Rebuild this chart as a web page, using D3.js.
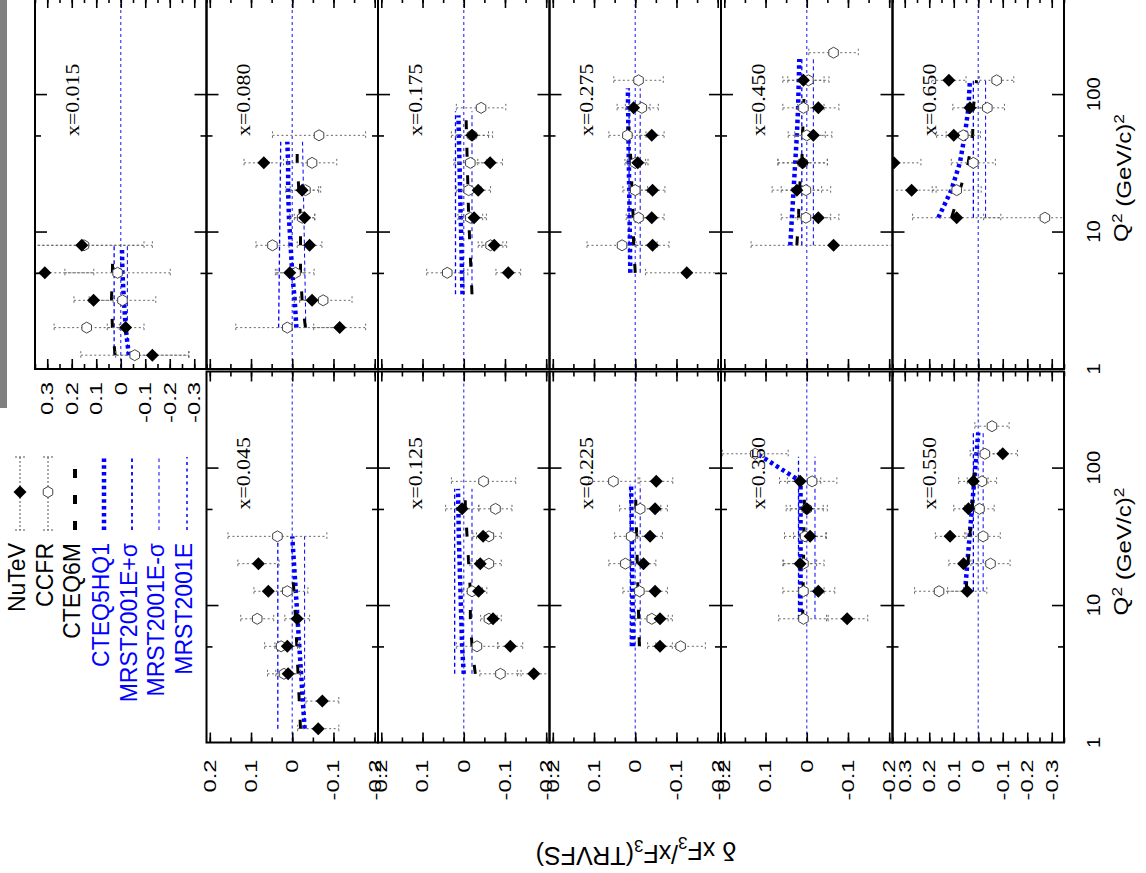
<!DOCTYPE html>
<html><head><meta charset="utf-8">
<script src="https://cdn.jsdelivr.net/npm/d3@7"></script>
<style>body{margin:0;background:#fff}svg{display:block}</style>
</head><body>
<svg id="c" width="1146" height="873"></svg>
<script>
// ---------------- data ----------------
const xBins = ["0.015","0.045","0.080","0.125","0.175","0.225","0.275","0.350","0.450","0.550","0.650"];
const valueRange = [0.35,0.208,0.208,0.208,0.208,0.208,0.208,0.208,0.208,0.35,0.35];
const q2Ticks = [1, 10, 100];
const q2Minor = [5, 50];
const seriesNames = ["NuTeV","CCFR","CTEQ6M","CTEQ5HQ1","MRST2001E+σ","MRST2001E-σ","MRST2001E"];
// [Q2, delta, error]
const nutev = [
  [[1.26,-0.129,0.15],[2,-0.02,0.075],[3.16,0.111,0.08],[5.01,0.31,0.2],[7.94,0.159,0.288]],
  [[1.26,-0.063,0.05],[2,-0.073,0.04],[3.16,0.01,0.03],[5.01,0.012,0.03],[7.94,-0.012,0.03],[12.6,0.058,0.035],[20,0.082,0.05]],
  [[2,-0.115,0.063],[3.16,-0.048,0.03],[5.01,0.006,0.035],[7.94,-0.042,0.03],[12.6,-0.03,0.025],[20,-0.024,0.04],[31.6,0.069,0.048]],
  [[3.16,-0.17,0.04],[5.01,-0.113,0.03],[7.94,-0.071,0.02],[12.6,-0.036,0.02],[20,-0.04,0.025],[31.6,-0.047,0.025],[50.1,0.004,0.04]],
  [[5.01,-0.108,0.03],[7.94,-0.074,0.03],[12.6,-0.025,0.03],[20,-0.035,0.03],[31.6,-0.064,0.03],[50.1,-0.02,0.04]],
  [[5.01,-0.06,0.03],[7.94,-0.06,0.03],[12.6,-0.048,0.03],[20,-0.02,0.03],[31.6,-0.036,0.03],[50.1,-0.048,0.03],[79.4,-0.051,0.04]],
  [[5.01,-0.125,0.1],[7.94,-0.042,0.04],[12.6,-0.04,0.03],[20,-0.042,0.03],[31.6,-0.006,0.025],[50.1,-0.04,0.03],[79.4,0.004,0.04]],
  [[7.94,-0.098,0.05],[12.6,-0.028,0.04],[20,0.016,0.04],[31.6,-0.008,0.04],[50.1,0,0.04],[79.4,0.016,0.05]],
  [[7.94,-0.065,0.2],[12.6,-0.028,0.05],[20,0.024,0.06],[31.6,0.01,0.06],[50.1,-0.016,0.045],[79.4,-0.028,0.05],[126,0.008,0.05]],
  [[12.6,0.045,0.08],[20,0.06,0.06],[31.6,0.115,0.06],[50.1,0.04,0.06],[79.4,0.02,0.06],[126,-0.1,0.06]],
  [[12.6,0.088,0.18],[20,0.272,0.1],[31.6,0.344,0.11],[50.1,0.1,0.07],[79.4,0.034,0.07],[126,0.12,0.07]]
];
const ccfr = [
  [[1.26,-0.057,0.22],[2,0.139,0.133],[3.16,-0.007,0.136],[5.01,0.013,0.215],[7.94,0.15,0.245]],
  [[3.16,0.02,0.04],[5.01,0.027,0.04],[7.94,0.085,0.04],[12.6,0.012,0.05],[31.6,0.036,0.12]],
  [[2,0.012,0.125],[3.16,-0.075,0.07],[5.01,-0.008,0.045],[7.94,0.048,0.04],[12.6,-0.024,0.03],[20,-0.032,0.037],[31.6,-0.048,0.06],[50.1,-0.065,0.113]],
  [[3.16,-0.089,0.05],[5.01,-0.032,0.05],[7.94,-0.061,0.02],[12.6,-0.02,0.025],[20,-0.061,0.03],[31.6,-0.061,0.03],[50.1,-0.077,0.04],[79.4,-0.048,0.078]],
  [[5.01,0.04,0.05],[7.94,-0.065,0.03],[12.6,-0.016,0.03],[20,-0.012,0.03],[31.6,-0.016,0.04],[50.1,-0.02,0.05],[79.4,-0.042,0.06]],
  [[5.01,-0.11,0.06],[7.94,-0.04,0.04],[12.6,-0.01,0.04],[20,0.024,0.04],[31.6,0.01,0.04],[50.1,-0.012,0.05],[79.4,0.053,0.06]],
  [[7.94,0.032,0.085],[12.6,-0.008,0.03],[20,0,0.03],[31.6,0,0.025],[50.1,0.019,0.045],[79.4,-0.016,0.04],[126,-0.008,0.06]],
  [[7.94,0.008,0.06],[12.6,0.008,0.05],[20,0.008,0.05],[31.6,0.004,0.05],[50.1,0,0.05],[79.4,-0.013,0.06],[126,0.125,0.08]],
  [[12.6,0.002,0.06],[20,0.002,0.06],[31.6,0.01,0.06],[50.1,0,0.045],[79.4,0.008,0.05],[126,-0.004,0.05],[200,-0.065,0.06]],
  [[12.6,0.16,0.1],[20,-0.05,0.08],[31.6,-0.02,0.07],[50.1,-0.005,0.06],[79.4,-0.015,0.06],[126,-0.027,0.06],[200,-0.056,0.07]],
  [[12.6,-0.272,0.25],[20,0.088,0.1],[31.6,0.02,0.09],[50.1,0.061,0.07],[79.4,-0.037,0.07],[126,-0.075,0.07]]
];
// [Q2, delta]
const cteq6m = [
  [[1.26,0.023],[2,0.034],[3.16,0.038],[5.01,0.034],[7.94,0.033]],
  [[1.26,-0.02],[3.16,-0.014],[7.94,-0.008],[20,0.0]],
  [[2,-0.032],[3.16,-0.024],[5.01,-0.02],[7.94,-0.02],[12.6,-0.02],[20,-0.016],[31.6,-0.012],[45,-0.012]],
  [[3.16,-0.028],[5.01,-0.02],[7.94,-0.016],[12.6,-0.016],[20,-0.012],[31.6,-0.008],[50.1,-0.004],[70,-0.003]],
  [[3.5,-0.02],[12.6,-0.012],[79.4,-0.005]],
  [[5.01,-0.01],[79.4,0.0]],
  [[5.01,0],[7.94,0.004],[12.6,0.005],[20,0.008],[31.6,0.01],[50.1,0.015],[79.4,0.02]],
  [[7.94,0.01],[79.4,0.005]],
  [[7.94,0.024],[12.6,0.02],[20,0.018],[31.6,0.012],[50.1,0.01],[79.4,0.008],[126,0.004]],
  [[12.6,0.05],[126,0.01]],
  [[12.6,0.109],[20,0.075],[31.6,0.041],[50.1,0.023],[79.4,0.02],[126,0.007]]
];
const cteq5hq1 = [
  [[1.26,-0.033],[2,-0.02],[3.16,-0.013],[5.01,-0.007],[7.5,-0.005]],
  [[1.26,-0.03],[31.6,0.0]],
  [[2,-0.01],[3.16,-0.006],[5.01,0],[7.94,0.004],[12.6,0.008],[20,0.01],[31.6,0.01],[45,0.012]],
  [[3.16,0.0],[5.01,0.004],[7.94,0.006],[12.6,0.008],[20,0.01],[31.6,0.012],[50.1,0.013],[70,0.014]],
  [[3.5,0.003],[70,0.013]],
  [[5.01,0.005],[75,0.01]],
  [[5.01,0.012],[110,0.018]],
  [[7.94,0.015],[79.4,0.015],[126,0.12]],
  [[7.94,0.04],[12.6,0.036],[20,0.032],[31.6,0.028],[50.1,0.024],[79.4,0.021],[180,0.018]],
  [[12.6,0.054],[180,0.0]],
  [[12.6,0.163],[20,0.11],[31.6,0.075],[50.1,0.055],[79.4,0.04],[126,0.034]]
];
const mrstPlus = [
  [[1.26,0.027],[7.94,0.027]],[[1.26,0.035],[31.6,0.035]],[[2,0.033],[45,0.028]],[[3.16,0.022],[70,0.022]],
  [[3.5,0.02],[75,0.02]],[[5.01,0.012],[75,0.012]],[[5.01,0.015],[110,0.015]],[[7.94,0.02],[120,0.02]],
  [[7.94,0.012],[180,0.012]],[[12.6,0.02],[180,0.02]],[[12.6,0.02],[126,0.02]]
];
const mrstMinus = [
  [[1.26,-0.027],[7.94,-0.027]],[[1.26,-0.03],[31.6,-0.03]],[[2,-0.033],[45,-0.025]],[[3.16,-0.02],[70,-0.02]],
  [[3.5,-0.02],[75,-0.02]],[[5.01,-0.012],[75,-0.012]],[[5.01,-0.012],[110,-0.012]],[[7.94,-0.02],[120,-0.02]],
  [[7.94,-0.016],[180,-0.016]],[[12.6,-0.02],[180,-0.02]],[[12.6,-0.03],[126,-0.03]]
];

// ---------------- layout ----------------
const svg = d3.select("#c");
const panelCol = [0,1,1,2,2,3,3,4,4,5,5];
const panelRow = [0,1,0,1,0,1,0,1,0,1,0];
const colX0 = 35, colW = 171.5;
const rowBottom = [369, 742.5], rowH = 371;
const BLUE = "#0000ff";
const SANS = "Liberation Sans, Arial, sans-serif";

svg.append("rect").attr("x",0).attr("y",0).attr("width",7).attr("height",408).attr("fill","#808080");

const diamond = "M0,-6.5L6.5,0L0,6.5L-6.5,0Z";
const hexagon = d3.range(6).map(i=>{const a=Math.PI/6+i*Math.PI/3;return [5.5*Math.cos(a),5.5*Math.sin(a)];});
const hexPath = "M"+hexagon.map(p=>p.join(",")).join("L")+"Z";

function rotText(g, x, y, txt, opts){
  return g.append("text")
    .attr("transform",`translate(${x},${y}) rotate(${opts.rot||-90}) scale(${opts.sx||1},1)`)
    .attr("text-anchor",opts.anchor||"middle")
    .attr("dy",opts.dy||"0.35em")
    .attr("font-family",opts.font||SANS)
    .attr("font-size",opts.size||16)
    .attr("fill",opts.fill||"#000")
    .text(txt);
}

xBins.forEach((xb,i)=>{
  const R = valueRange[i];
  const left = colX0 + panelCol[i]*colW, right = left + colW;
  const bottom = rowBottom[panelRow[i]], top = bottom - rowH;
  const xs = d3.scaleLinear().domain([R,-R]).range([left,right]);
  const ys = d3.scaleLog().domain([1,500]).range([bottom,top]);
  const g = svg.append("g");
  const clipId = "clip"+i;
  g.append("clipPath").attr("id",clipId).append("rect")
    .attr("x",left).attr("y",top).attr("width",colW).attr("height",rowH);
  const inner = g.append("g").attr("clip-path",`url(#${clipId})`);

  inner.append("line").attr("x1",xs(0)).attr("x2",xs(0)).attr("y1",top).attr("y2",bottom)
    .attr("stroke","#4a4aff").attr("stroke-width",1.3).attr("stroke-dasharray","3,3");

  const lineGen = d3.line().x(d=>xs(d[1])).y(d=>ys(d[0]));
  inner.append("path").attr("d",lineGen(mrstPlus[i])).attr("fill","none")
    .attr("stroke",BLUE).attr("stroke-width",1.3).attr("stroke-dasharray","4,3");
  inner.append("path").attr("d",lineGen(mrstMinus[i])).attr("fill","none")
    .attr("stroke",BLUE).attr("stroke-width",1).attr("stroke-dasharray","4,3");
  inner.append("path").attr("d",lineGen(cteq5hq1[i])).attr("fill","none")
    .attr("stroke",BLUE).attr("stroke-width",4.5).attr("stroke-dasharray","3.5,3.3");
  inner.append("path").attr("d",lineGen(cteq6m[i])).attr("fill","none")
    .attr("stroke","#000").attr("stroke-width",3).attr("stroke-dasharray","9,18.5");

  function errBars(data){
    const eg = inner.append("g").attr("stroke","#666").attr("stroke-width",1).attr("stroke-dasharray","2,2.5");
    data.forEach(d=>{
      const y = ys(d[0]);
      eg.append("line").attr("x1",xs(d[1]+d[2])).attr("x2",xs(d[1]-d[2])).attr("y1",y).attr("y2",y);
      [d[1]+d[2], d[1]-d[2]].forEach(v=>{
        eg.append("line").attr("x1",xs(v)).attr("x2",xs(v)).attr("y1",y-4).attr("y2",y+4);
      });
    });
  }
  errBars(ccfr[i]); errBars(nutev[i]);
  inner.selectAll(".ccfr").data(ccfr[i]).join("path").attr("class","ccfr")
    .attr("transform",d=>`translate(${xs(d[1])},${ys(d[0])})`).attr("d",hexPath)
    .attr("fill","#fff").attr("stroke","#444").attr("stroke-width",1);
  inner.selectAll(".nutev").data(nutev[i]).join("path").attr("class","nutev")
    .attr("transform",d=>`translate(${xs(d[1])},${ys(d[0])})`).attr("d",diamond)
    .attr("fill","#000");

  const majV = d3.range(-Math.floor(R*10+1e-9), Math.floor(R*10+1e-9)+1).map(k=>k/10);
  const minV = d3.range(-Math.floor(R*20+1e-9), Math.floor(R*20+1e-9)+1).map(k=>k/20);
  const styleAxis = sel=>{sel.select(".domain").remove(); sel.selectAll("line").attr("stroke","#000").attr("stroke-width",1.6);};
  g.append("g").attr("transform",`translate(0,${bottom})`).call(d3.axisTop(xs).tickValues(minV).tickSize(5).tickFormat("")).call(styleAxis);
  g.append("g").attr("transform",`translate(0,${bottom})`).call(d3.axisTop(xs).tickValues(majV).tickSize(10).tickFormat("")).call(styleAxis);
  g.append("g").attr("transform",`translate(0,${top})`).call(d3.axisBottom(xs).tickValues(minV).tickSize(5).tickFormat("")).call(styleAxis);
  g.append("g").attr("transform",`translate(0,${top})`).call(d3.axisBottom(xs).tickValues(majV).tickSize(10).tickFormat("")).call(styleAxis);
  g.append("g").attr("transform",`translate(${left},0)`).call(d3.axisRight(ys).tickValues(q2Ticks.slice(1)).tickSize(12).tickFormat("")).call(styleAxis);
  g.append("g").attr("transform",`translate(${left},0)`).call(d3.axisRight(ys).tickValues(q2Minor).tickSize(6).tickFormat("")).call(styleAxis);
  g.append("g").attr("transform",`translate(${right},0)`).call(d3.axisLeft(ys).tickValues(q2Ticks.slice(1)).tickSize(12).tickFormat("")).call(styleAxis);
  g.append("g").attr("transform",`translate(${right},0)`).call(d3.axisLeft(ys).tickValues(q2Minor).tickSize(6).tickFormat("")).call(styleAxis);
  g.append("rect").attr("x",left).attr("y",top).attr("width",colW).attr("height",rowH)
    .attr("fill","none").attr("stroke","#000").attr("stroke-width",2);

  rotText(g, left+37, top+138, "x="+xb, {anchor:"start", font:"Liberation Serif, Times New Roman, serif", size:19, sx:1.15});

  if (panelRow[i]===1 || i===0){
    const ly = panelRow[i]===1 ? bottom+17 : bottom+13;
    majV.forEach(v=>{
      const lab = v===0 ? "0" : d3.format(".1f")(v).replace("−","-");
      rotText(g, xs(v), ly, lab, {anchor:"end", size:17, sx:1.4});
    });
  }
  if (panelCol[i]===5){
    q2Ticks.forEach(v=>rotText(g, 1094, ys(v), String(v), {size:18, sx:1.12}));
    const tt = g.append("text")
      .attr("transform",`translate(1121,${bottom-191}) rotate(-90) scale(1.15,1)`)
      .attr("text-anchor","middle").attr("dy","0.35em")
      .attr("font-family",SANS).attr("font-size",21);
    tt.append("tspan").text("Q");
    tt.append("tspan").attr("dy","-0.45em").attr("font-size",15).text("2");
    tt.append("tspan").attr("dy","0.45em").text(" (GeV/c)");
    tt.append("tspan").attr("dy","-0.45em").attr("font-size",15).text("2");
  }
});

// ---------------- legend ----------------
const legX = [20,48,75,104,132,159,187];
const legColor = ["#000","#000","#000",BLUE,BLUE,BLUE,BLUE];
const lg = svg.append("g");
seriesNames.forEach((name,k)=>{
  const x = legX[k];
  rotText(lg, x-3, 543, name, {anchor:"end", size:23, fill:legColor[k]});
  if (k<2){
    const eg = lg.append("g").attr("stroke","#555").attr("stroke-width",1).attr("stroke-dasharray","2,2");
    eg.append("line").attr("x1",x).attr("x2",x).attr("y1",457).attr("y2",530);
    [457,530].forEach(y=>eg.append("line").attr("x1",x-5).attr("x2",x+5).attr("y1",y).attr("y2",y));
    lg.append("path").attr("transform",`translate(${x},492)`).attr("d",k===0?diamond:hexPath)
      .attr("fill",k===0?"#000":"#fff").attr("stroke",k===0?"none":"#444");
  } else {
    const styles = [null,null,["#000",4,"9,17"],[BLUE,4.5,"3.5,3.3"],[BLUE,1.8,"3.5,3.3"],[BLUE,1,"3.5,3.3"],[BLUE,1.5,"3,3.5"]];
    const s = styles[k];
    lg.append("line").attr("x1",x).attr("x2",x).attr("y1",530).attr("y2",457)
      .attr("stroke",s[0]).attr("stroke-width",s[1]).attr("stroke-dasharray",s[2]);
  }
});

const yt = svg.append("text").attr("transform","translate(636,851) rotate(180)")
  .attr("text-anchor","middle").attr("dy","0.35em")
  .attr("font-family",SANS).attr("font-size",25);
yt.append("tspan").text("δ xF");
yt.append("tspan").attr("dy","0.3em").attr("font-size",17).text("3");
yt.append("tspan").attr("dy","-0.3em").text("/xF");
yt.append("tspan").attr("dy","0.3em").attr("font-size",17).text("3");
yt.append("tspan").attr("dy","-0.3em").text("(TRVFS)");
</script>
</body></html>
